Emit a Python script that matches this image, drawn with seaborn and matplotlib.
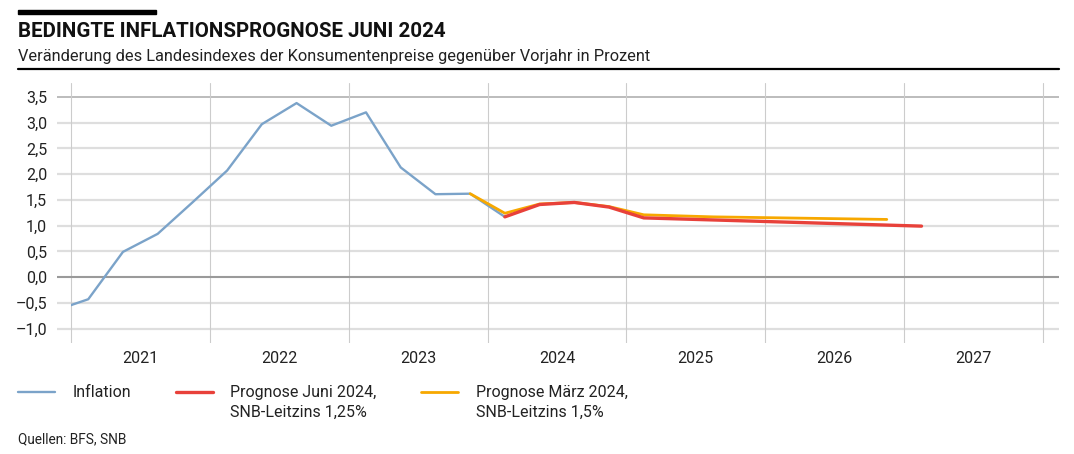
import numpy as np
import pandas as pd
import matplotlib.pyplot as plt
import seaborn as sns
from matplotlib.patches import Rectangle
from matplotlib.lines import Line2D
from matplotlib.ticker import FixedLocator, FuncFormatter, NullFormatter

# --- DATA (quarterly values) ---
infl_quarters = ["2020Q4",
                 "2021Q1", "2021Q2", "2021Q3", "2021Q4",
                 "2022Q1", "2022Q2", "2022Q3", "2022Q4",
                 "2023Q1", "2023Q2", "2023Q3", "2023Q4",
                 "2024Q1"]
infl_values = [-0.66,
               -0.43, 0.49, 0.84, 1.45,
               2.07, 2.97, 3.38, 2.94,
               3.20, 2.13, 1.61, 1.62,
               1.17]

juni_quarters = ["2024Q1", "2024Q2", "2024Q3", "2024Q4",
                 "2025Q1", "2025Q2", "2025Q3", "2025Q4",
                 "2026Q1", "2026Q2", "2026Q3", "2026Q4",
                 "2027Q1"]
juni_values = [1.17, 1.41, 1.45, 1.36,
               1.15, 1.13, 1.11, 1.09,
               1.07, 1.05, 1.03, 1.01,
               0.99]

maerz_quarters = ["2023Q4",
                  "2024Q1", "2024Q2", "2024Q3", "2024Q4",
                  "2025Q1", "2025Q2", "2025Q3", "2025Q4",
                  "2026Q1", "2026Q2", "2026Q3", "2026Q4"]
maerz_values = [1.62,
                1.24, 1.42, 1.45, 1.37,
                1.21, 1.19, 1.17, 1.16,
                1.15, 1.14, 1.13, 1.12]

years = [2021, 2022, 2023, 2024, 2025, 2026, 2027]
y_ticks = [-1.0, -0.5, 0.0, 0.5, 1.0, 1.5, 2.0, 2.5, 3.0, 3.5]

# legend labels: first and second line of each entry
label_line1 = ["Inflation", "Prognose Juni 2024,", "Prognose März 2024,"]
label_line2 = ["", "SNB-Leitzins 1,25%", "SNB-Leitzins 1,5%"]
colors = ["#7ba3c9", "#e8413a", "#f7a800"]


def quarter_pos(q):
    # place each quarter at its mid point on a year axis
    year, qq = q.split("Q")
    return int(year) + (int(qq) - 0.5) / 4


def to_frame(quarters, values):
    return pd.DataFrame({"x": [quarter_pos(q) for q in quarters], "y": values})


df_infl = to_frame(infl_quarters, infl_values)
df_juni = to_frame(juni_quarters, juni_values)
df_maerz = to_frame(maerz_quarters, maerz_values)

# --- STYLE ---
sns.set_theme(style="white")
plt.rcParams['font.family'] = ['Roboto', 'DejaVu Sans']
plt.rcParams['axes.unicode_minus'] = True

W, H = 1074, 454
fig = plt.figure(figsize=(W / 100, H / 100), dpi=100)

def fx(px):
    return px / W

def fy(py):
    return 1 - py / H

ax = fig.add_axes([fx(57), fy(343), fx(1059) - fx(57), fy(83) - fy(343)])

# --- LINES ---
sns.lineplot(data=df_infl, x="x", y="y", ax=ax, color=colors[0], lw=1.7, zorder=3)
sns.lineplot(data=df_maerz, x="x", y="y", ax=ax, color=colors[2], lw=2.0, zorder=4)
sns.lineplot(data=df_juni, x="x", y="y", ax=ax, color=colors[1], lw=2.4, zorder=5)
line_infl, line_maerz, line_juni = ax.lines[:3]

# the observed series starts at the 2021 boundary
clip = Rectangle((2021, -5), 10, 20, transform=ax.transData)
line_infl.set_clip_path(clip)

ax.set_xlim(2020.9, 2028.115)
ax.set_ylim(-1.28, 3.77)

# ticks: year labels centred in each year
ax.xaxis.set_major_locator(FixedLocator(years + [2028]))
ax.xaxis.set_major_formatter(NullFormatter())
ax.xaxis.set_minor_locator(FixedLocator([y + 0.5 for y in years]))
ax.xaxis.set_minor_formatter(FuncFormatter(lambda v, p: f"{int(v)}"))
ax.tick_params(axis="x", which="both", length=0, pad=6, labelsize=11.5, labelcolor="#222222")

ax.yaxis.set_major_locator(FixedLocator(y_ticks))
ax.yaxis.set_major_formatter(FuncFormatter(
    lambda v, p: f"{v:.1f}".replace(".", ",").replace("-", "\u2013")))
ax.tick_params(axis="y", length=0, pad=7, labelsize=11.5, labelcolor="#222222")

for v in y_ticks:
    if v == 0.0:
        ax.axhline(v, color="#9a9a9a", lw=1.5, zorder=2)
    elif v == 3.5:
        ax.axhline(v, color="#b0b0b0", lw=1.2, zorder=1)
    else:
        ax.axhline(v, color="#dedede", lw=1.6, zorder=1)
for yr in years + [2028]:
    ax.axvline(yr, color="#cccccc", lw=0.8, zorder=1)

for s in ax.spines.values():
    s.set_visible(False)
ax.set_xlabel("")
ax.set_ylabel("")

# --- LEGEND (two rows, handles next to the first line) ---
blank = Line2D([], [], color="none")
legend_handles = []
legend_labels = []
for line, l1, l2 in zip([line_infl, line_juni, line_maerz], label_line1, label_line2):
    legend_handles += [line, blank]
    legend_labels += [l1, l2]
fig.legend(legend_handles, legend_labels,
           loc="upper left", bbox_to_anchor=(fx(4), fy(371)), ncol=3,
           frameon=False, fontsize=11.5, handlelength=2.3, handletextpad=1.1,
           columnspacing=2.8, labelspacing=0.25, labelcolor="#222222")

# --- TITLES ---
fig.add_artist(Rectangle((fx(18), fy(13.5)), fx(156) - fx(18), fy(10) - fy(13.5),
                         transform=fig.transFigure, color="black"))
fig.text(fx(18), fy(37), "BEDINGTE INFLATIONSPROGNOSE JUNI 2024",
         fontsize=14.8, fontweight="bold", color="#111111", va="baseline")
fig.text(fx(18), fy(61), "Veränderung des Landesindexes der Konsumentenpreise gegenüber Vorjahr in Prozent",
         fontsize=11.8, color="#222222", va="baseline")
fig.add_artist(Line2D([fx(18), fx(1059)], [fy(68.5), fy(68.5)],
                      transform=fig.transFigure, color="black", lw=1.6))
fig.text(fx(18), fy(443), "Quellen: BFS, SNB", fontsize=9.8, color="#222222",
         va="baseline")

fig.savefig("out.png", dpi=100)
